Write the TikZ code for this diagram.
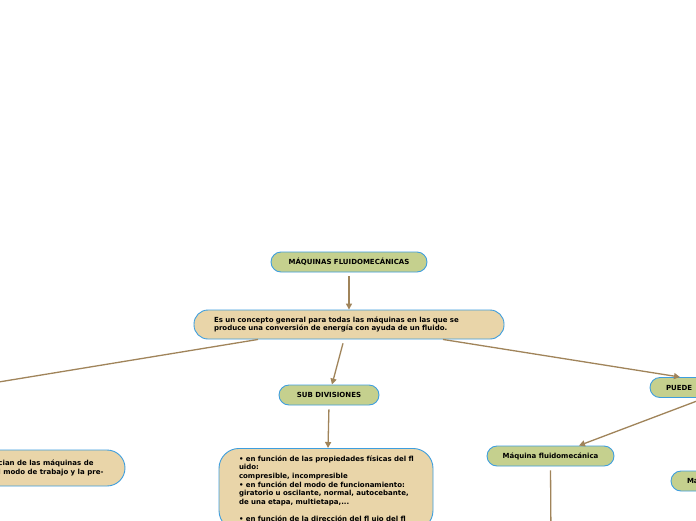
\documentclass[tikz,border=0pt]{standalone}
\usepackage{fontspec}
\setmainfont{DejaVu Sans}
\usetikzlibrary{arrows.meta,calc}
\definecolor{boxgreen}{RGB}{197,208,142}
\definecolor{boxtan}{RGB}{233,213,169}
\definecolor{boxblue}{RGB}{62,158,222}
\definecolor{linkbrown}{RGB}{160,132,90}
\tikzset{
  base/.style={draw=boxblue, line width=0.9pt, font=\fontsize{7}{8.7}\selectfont\bfseries, text=black, inner ysep=0pt},
  greenbox/.style={base, fill=boxgreen, rounded corners=10pt, minimum height=20pt},
  tanbox/.style={base, fill=boxtan},
  link/.style={draw=linkbrown, line width=1.3pt},
  arrowlink/.style={link, -{Triangle[length=6pt,width=6pt]}},
}
\begin{document}
\begin{tikzpicture}[x=1pt,y=-1pt]
\useasboundingbox (0,0) rectangle (696,520);
\clip (0,0) rectangle (696,520);
\fill[white] (0,0) rectangle (696,520);

% nodes
\node[greenbox, minimum width=156pt] (top) at (349,262) {MÁQUINAS FLUIDOMECÁNICAS};
\node[tanbox, rounded corners=14pt, minimum height=29pt, text width=270pt, inner xsep=20pt, align=left] (main) at (349,324.5)
  {\mbox{Es un concepto general para todas las máquinas en las que se}\\\mbox{produce una conversión de energía con ayuda de un fluido.}};
\node[greenbox, minimum width=100pt] (sub) at (329,395) {SUB DIVISIONES};
\node[tanbox, rounded corners=20pt, anchor=north, text width=174pt, inner xsep=20pt, inner ysep=7pt, align=left] (big) at (326,448)
  {\mbox{• en función de las propiedades físicas del fl}\\\mbox{uido:}\\\mbox{compresible, incompresible}\\\mbox{• en función del modo de funcionamiento:}\\\mbox{giratorio u oscilante, normal, autocebante,}\\\mbox{de una etapa, multietapa,...}\\[8.7pt]\mbox{• en función de la dirección del fl ujo del fl}\\[20pt]};
\node[tanbox, rounded corners=18pt, minimum width=275pt, minimum height=36pt] (left) at (-12.5,468) {};
\node[base, draw=none, anchor=west, align=left, inner sep=0pt] (lefttext) at (-2,468)
  {cian de las máquinas de\\l modo de trabajo y la pre-};
\node[greenbox, text width=84pt, inner xsep=16pt, align=left] (puede) at (708,387.5) {PUEDE};
\node[greenbox, minimum width=127pt] (maq) at (550.5,456) {Máquina fluidomecánica};
\node[greenbox, text width=84pt, inner xsep=16pt, align=left] (ma) at (729,481) {Má};

% coordinates off the page
\coordinate (leftend) at (-200,414.6);
\coordinate (downend) at (551,540);

% connectors
\draw[arrowlink, shorten <=4pt] (top.south) -- (main.north);
\draw[arrowlink, shorten <=4pt] ([xshift=-5pt]main.south) -- ([xshift=3pt]sub.north);
\draw[link] ([xshift=-91pt]main.south) -- (leftend);
\draw[arrowlink] ([xshift=94pt]main.south) -- ([xshift=-28pt]puede.north);
\draw[arrowlink, shorten <=4pt] (sub.south) -- ([xshift=2pt]big.north);
\draw[arrowlink, shorten <=3pt] ([xshift=-3pt]puede.south) -- ([xshift=28.5pt]maq.north);
\draw[link, shorten <=4pt] (maq.south) -- (downend);
\end{tikzpicture}
\end{document}
